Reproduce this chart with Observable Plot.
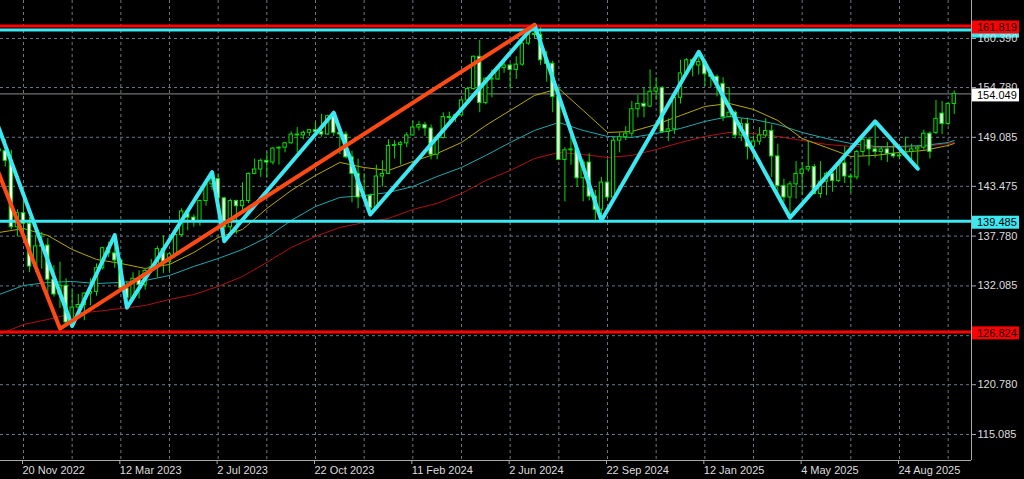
<!DOCTYPE html>
<html><head><meta charset="utf-8">
<script src="https://cdn.jsdelivr.net/npm/d3@7"></script>
<script src="https://cdn.jsdelivr.net/npm/@observablehq/plot@0.6"></script>
<style>html,body{margin:0;padding:0;background:#000;overflow:hidden}</style>
</head><body><div id="chart"></div>
<script>
// ---- weekly candles (USD/JPY style), first bar week of 23 Oct 2022 ----
const firstWeek = "2022-10-23";
const open = [147.7,147.5,146.4,138.8,140.4,139.2,134.3,136.6,136.7,132.8,131.1,132.1,127.9,129.6,129.9,131.2,131.4,134.1,136.4,135.8,135.0,131.8,130.7,132.9,132.2,133.8,134.2,136.3,134.8,135.7,137.9,140.6,139.9,139.4,141.8,143.7,144.3,142.1,138.8,141.8,141.2,141.8,144.9,145.4,146.4,146.2,147.8,147.9,148.4,149.4,149.3,149.6,149.9,149.7,149.4,151.5,149.6,149.4,146.8,144.9,142.2,142.4,141.0,144.6,144.9,148.1,148.2,148.4,149.3,150.2,150.5,150.1,147.1,149.0,151.4,151.3,151.6,153.3,154.6,158.3,153.0,155.8,155.7,157.0,157.3,156.8,157.4,159.8,160.9,160.8,157.9,157.5,153.7,146.5,147.6,147.7,144.4,146.2,142.3,140.8,143.9,142.2,148.7,149.1,149.5,152.3,152.9,152.6,154.3,154.7,149.7,150.0,153.6,156.4,157.9,157.3,157.7,156.3,156.0,155.2,151.4,151.9,149.3,150.6,148.0,148.6,149.3,149.8,146.9,143.5,142.2,143.7,144.9,145.4,145.7,142.6,144.0,144.9,144.1,146.1,144.6,144.5,147.4,148.8,147.7,147.4,147.7,147.2,146.9,147.0,147.4,147.7,147.9,149.5,149.6,151.8,150.6,152.9];
const high = [149.0,148.8,147.6,140.8,142.2,139.9,137.9,138.2,137.5,134.4,134.8,132.9,131.6,131.1,131.3,132.9,134.6,136.5,137.1,137.9,135.1,132.6,133.6,133.8,134.0,135.1,136.6,137.8,135.8,138.7,140.9,140.9,140.2,141.9,143.9,145.1,144.9,142.2,142.0,141.9,143.9,145.0,146.6,146.6,147.4,147.9,148.0,148.5,149.7,150.2,149.8,150.0,150.8,151.7,151.6,151.9,149.7,149.7,147.5,146.6,144.9,142.6,145.9,146.4,148.8,148.7,148.6,149.6,150.9,150.9,150.8,150.5,149.2,151.9,151.97,151.8,153.4,154.8,158.4,160.2,155.9,156.8,157.2,157.7,157.5,158.3,159.9,161.3,161.95,161.8,158.9,157.8,154.7,147.9,149.4,148.1,146.5,147.2,143.0,144.5,146.5,149.0,149.6,150.3,153.2,153.9,154.7,156.8,155.9,154.9,151.2,153.8,157.9,158.1,158.1,158.9,158.0,156.8,156.2,155.9,154.8,152.1,151.2,151.3,149.2,150.2,151.2,150.5,148.3,144.3,144.0,146.3,146.2,148.6,146.0,146.3,145.1,145.5,146.3,148.0,144.9,147.6,149.2,149.1,150.9,148.0,148.5,148.8,147.9,149.1,148.3,148.0,149.9,149.7,153.3,153.2,153.0,154.4];
const low = [145.1,145.7,138.5,137.7,137.5,133.6,133.6,134.0,130.6,130.8,129.5,127.5,127.2,129.0,128.1,129.8,130.9,133.9,135.3,134.1,131.6,129.6,130.4,130.6,131.6,133.5,133.0,133.5,133.7,135.6,137.7,138.4,138.8,138.9,141.2,143.0,142.0,137.2,138.2,138.0,140.7,141.5,144.8,144.5,144.4,145.9,145.9,147.3,148.3,147.3,148.8,149.2,149.3,149.1,149.3,149.2,147.1,146.6,141.6,140.9,141.9,140.3,140.8,143.4,144.8,146.6,145.9,147.9,149.2,149.8,149.2,146.5,146.5,148.9,150.8,150.8,151.5,153.0,154.5,151.9,152.8,153.6,155.6,156.4,154.6,155.7,157.2,159.6,160.3,157.3,155.4,151.9,146.4,141.7,145.9,143.4,141.7,141.8,139.6,139.58,141.8,141.6,147.3,148.7,149.1,151.3,151.3,152.5,153.3,149.5,148.6,149.4,152.9,156.1,156.0,156.2,154.9,154.8,153.7,150.9,151.3,148.9,148.6,146.5,146.5,148.2,149.0,144.5,142.1,141.6,139.9,142.0,142.4,145.1,142.5,142.1,142.4,142.8,143.9,143.8,142.7,144.2,146.9,145.8,146.7,146.4,146.2,146.7,146.5,146.8,146.4,145.5,147.6,146.6,149.4,149.4,150.4,151.7];
const close = [147.5,146.4,138.8,140.4,139.2,134.3,136.6,136.7,132.8,131.1,132.1,127.9,129.6,129.9,131.2,131.4,134.1,136.4,135.8,135.0,131.8,130.7,132.9,132.2,133.8,134.2,136.3,134.8,135.7,137.9,140.6,139.9,139.4,141.8,143.7,144.3,142.1,138.8,141.8,141.2,141.8,144.9,145.4,146.4,146.2,147.8,147.9,148.4,149.4,149.3,149.6,149.9,149.7,149.4,151.5,149.6,149.4,146.8,144.9,142.2,142.4,141.0,144.6,144.9,148.1,148.2,148.4,149.3,150.2,150.5,150.1,147.1,149.0,151.4,151.3,151.6,153.3,154.6,158.3,153.0,155.8,155.7,157.0,157.3,156.8,157.4,159.8,160.9,160.8,157.9,157.5,153.7,146.5,147.6,147.7,144.4,146.2,142.3,140.8,143.9,142.2,148.7,149.1,149.5,152.3,152.9,152.6,154.3,154.7,149.7,150.0,153.6,156.4,157.9,157.3,157.7,156.3,156.0,155.2,151.4,151.9,149.3,150.6,148.0,148.6,149.3,149.8,146.9,143.5,142.2,143.7,144.9,145.4,145.7,142.6,144.0,144.9,144.1,146.1,144.6,144.5,147.4,148.8,147.7,147.4,147.7,147.2,146.9,147.0,147.4,147.7,147.9,149.5,147.4,151.2,150.6,152.9,154.05];

const maWeek = [-4,0,4,8,12,16,20,24,28,32,36,40,44,48,52,56,60,64,68,72,76,80,84,88,92,96,100,104,108,112,116,120,124,128,132,136,140,144,148,152,153];
const maFast = [138.20,138.65,137.85,136.25,135.11,134.65,134.08,134.54,135.91,137.62,138.54,140.94,143.00,144.72,146.21,145.63,145.29,146.32,147.24,148.49,150.44,152.16,153.87,154.67,152.16,149.64,149.75,150.55,151.58,152.61,152.96,152.27,151.01,148.95,147.92,146.89,147.01,147.35,147.58,148.15,148.38];
const maMid = [131.10,132.13,132.48,132.59,132.36,132.48,132.70,133.28,134.31,135.22,136.25,137.62,139.57,141.17,142.20,142.43,142.77,143.46,144.60,145.63,147.01,148.49,149.87,150.78,149.87,149.18,149.07,149.52,150.10,150.90,151.47,151.13,150.55,149.64,148.95,148.38,148.04,148.04,148.15,148.49,148.72];
const maSlow = [126.53,127.67,128.24,128.93,129.16,129.50,129.84,130.53,131.10,132.02,133.16,134.77,136.48,137.74,138.77,139.34,139.80,140.83,141.52,142.66,144.15,145.29,146.66,147.35,147.12,146.78,147.01,147.69,148.49,149.18,149.64,149.52,149.18,148.72,148.27,148.04,147.92,147.92,148.04,148.38,148.49];

// ---- zigzags ----
const zigCyanDates = ["2022-10-16","2023-01-15","2023-03-05","2023-03-19","2023-06-25","2023-07-09","2023-11-12","2023-12-24","2024-06-30","2024-09-15","2025-01-05","2025-04-20","2025-07-27","2025-09-14"];
const zigCyanPrices = [151.9,127.5,137.9,129.6,145.1,137.2,151.9,140.25,161.95,139.58,158.87,139.89,150.9,145.5];
const zigOrangeDates = ["2022-09-25","2023-01-01","2024-06-30"];
const zigOrangePrices = [151.9,127.2,161.95];

// ---- horizontal levels ----
const redLevels = [161.819, 126.824];
const cyanLevels = [161.35, 139.485];
const lastPrice = 154.049;

// ---- axes ----
const gridPrices = [160.390,154.780,149.085,143.475,137.780,132.085,126.390,120.780,115.085];
const priceLabels = [160.390,154.780,149.085,143.475,137.780,132.085,120.780,115.085];
const dateLabels = ["2022-11-20","2023-03-12","2023-07-02","2023-10-22","2024-02-11","2024-06-02","2024-09-22","2025-01-12","2025-05-04","2025-08-24"];
const dateGrid = ["2022-11-20","2023-01-15","2023-03-12","2023-05-07","2023-07-02","2023-08-27","2023-10-22","2023-12-17","2024-02-11","2024-04-07","2024-06-02","2024-07-28","2024-09-22","2024-11-17","2025-01-12","2025-03-09","2025-05-04","2025-06-29","2025-08-24","2025-10-19"];

// build tables
const DAY = 864e5;
const t0 = new Date(firstWeek);
const candles = open.map((o, i) => ({date: d3.utcWeek.offset(t0, i), open: o, high: high[i], low: low[i], close: close[i]}));
const base = new Date("2022-11-20");
const maRows = maWeek.map((w, i) => ({date: d3.utcWeek.offset(base, w), fast: maFast[i], mid: maMid[i], slow: maSlow[i]}));
const zigC = zigCyanDates.map((d, i) => ({date: new Date(d), p: zigCyanPrices[i]}));
const zigO = zigOrangeDates.map((d, i) => ({date: new Date(d), p: zigOrangePrices[i]}));

const GREEN = "#00e000", CYAN = "#3ce8f2", RED = "#ff0000", ORANGE = "#ff4a14", GRID = "#6a7888";

const xDomain = [new Date("2022-10-24T12:49Z"), new Date("2025-11-14T20:24Z")];
const yDomain = [112.110, 164.737];

function labelBoxes(list) {
  return (index, scales, values, dims) => {
    const g = d3.create("svg:g");
    const x0 = dims.width - dims.marginRight + 1;
    for (const L of list) {
      const y = scales.y(L.v);
      g.append("rect").attr("x", x0).attr("y", y - 5).attr("width", 47).attr("height", 13).attr("fill", L.fill);
      if (L.text) g.append("text").attr("x", x0 + 5).attr("y", y + 1.5).attr("dy", "0.35em")
        .attr("text-anchor", "start")
        .attr("fill", "#000").attr("font-size", 11).attr("font-family", "Liberation Sans, Arial, sans-serif")
        .text(L.v.toFixed(3));
    }
    return g.node();
  };
}

const chart = Plot.plot({
  width: 1024, height: 479,
  marginLeft: 0, marginRight: 53, marginTop: 0, marginBottom: 19,
  x: {type: "utc", domain: xDomain, axis: null},
  y: {domain: yDomain, axis: null},
  style: {background: "#000", color: "#dddddd", fontFamily: "Liberation Sans, Arial, sans-serif", fontSize: "11px", overflow: "visible"},
  marks: [
    Plot.ruleY(gridPrices, {stroke: GRID, strokeDasharray: "3,3", strokeWidth: 1}),
    Plot.ruleX(dateGrid, {x: d => new Date(d), stroke: GRID, strokeDasharray: "3,3", strokeWidth: 1}),
    Plot.ruleY([lastPrice], {stroke: "#8c8c8c", strokeWidth: 1}),
    Plot.line(maRows, {x: "date", y: "slow", stroke: "#b01010", strokeWidth: 1, clip: true}),
    Plot.line(maRows, {x: "date", y: "mid", stroke: "#20a8b0", strokeWidth: 1, clip: true}),
    Plot.line(maRows, {x: "date", y: "fast", stroke: "#b8a800", strokeWidth: 1, clip: true}),
    Plot.ruleX(candles, {x: "date", y1: "low", y2: "high", stroke: GREEN, strokeWidth: 1, clip: true}),
    Plot.rect(candles.filter(d => d.close >= d.open), {x1: d => new Date(+d.date - 1.9*DAY), x2: d => new Date(+d.date + 1.9*DAY), y1: "open", y2: "close", fill: "#000", stroke: GREEN, strokeWidth: 1, clip: true}),
    Plot.rect(candles.filter(d => d.close < d.open), {x1: d => new Date(+d.date - 1.9*DAY), x2: d => new Date(+d.date + 1.9*DAY), y1: "open", y2: "close", fill: "#fff", stroke: GREEN, strokeWidth: 1, clip: true}),
    Plot.ruleY(cyanLevels, {stroke: CYAN, strokeWidth: 3}),
    Plot.ruleY(redLevels, {stroke: RED, strokeWidth: 3}),
    Plot.line(zigC, {x: "date", y: "p", stroke: CYAN, strokeWidth: 4, clip: true}),
    Plot.line(zigO, {x: "date", y: "p", stroke: ORANGE, strokeWidth: 4, clip: true}),
    Plot.ruleY([yDomain[0]], {stroke: "#a8a8a8", strokeWidth: 1}),
    Plot.ruleX([xDomain[1]], {stroke: "#a8a8a8", strokeWidth: 1}),
    labelBoxes([{v: cyanLevels[0], fill: CYAN, text: false}]),
    Plot.axisY({anchor: "right", ticks: priceLabels, tickFormat: d => d.toFixed(3), tickSize: 4, tickPadding: 2, stroke: "#a8a8a8", fill: "#dddddd"}),
    Plot.axisX({anchor: "bottom", ticks: dateLabels.map(d => new Date(d)), tickFormat: d3.utcFormat("%-d %b %Y"), tickSize: 4, tickPadding: 2, textAnchor: "start", dx: -1, stroke: "#a8a8a8", fill: "#dddddd"}),
    labelBoxes([{v: redLevels[0], fill: RED, text: true}, {v: cyanLevels[1], fill: CYAN, text: true}, {v: redLevels[1], fill: RED, text: true}, {v: lastPrice, fill: "#ffffff", text: true}])
  ]
});
document.getElementById("chart").append(chart);
</script>
</body></html>
